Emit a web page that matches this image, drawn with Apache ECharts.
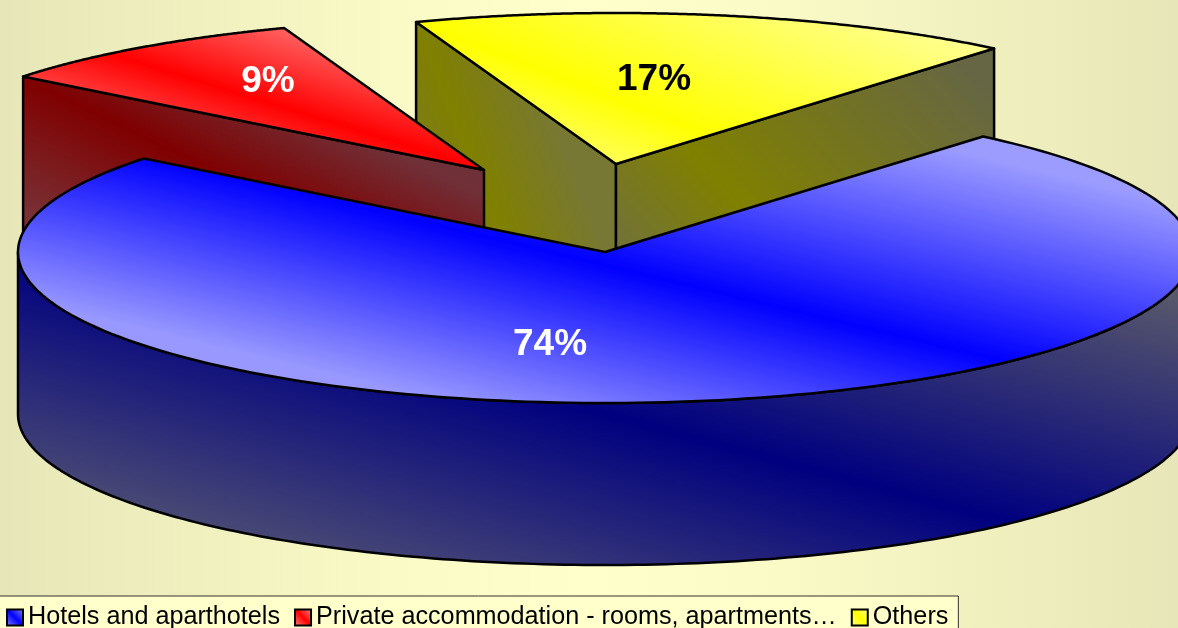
<!DOCTYPE html>
<html>
<head>
<meta charset="utf-8">
<style>
  html, body { margin: 0; padding: 0; overflow: hidden; }
  #main { width: 1178px; height: 628px; }
</style>
<script src="https://cdn.jsdelivr.net/npm/echarts@6/dist/echarts.min.js"></script>
</head>
<body>
<div id="main"></div>
<script>
// data, labels are rounded from these
var categories = ['Hotels and aparthotels', 'Private accommodation - rooms, apartments…', 'Others'];
var shares = [74.49, 8.84, 16.67];

// pie geometry
var CX = 605, CY = 252, RX = 587, RY = 151, START_ANGLE = 49.9;
var total = shares.reduce(function (a, b) { return a + b; }, 0);

// fill: a light/dark/light band across a face, given by a point on the band and its direction
function band(px, py, dx, dy, distA, distB, colA, colMid, colB) {
  var len = Math.sqrt(dx * dx + dy * dy);
  var nx = -dy / len, ny = dx / len;
  return new echarts.graphic.LinearGradient(
    px + nx * distA, py + ny * distA, px + nx * distB, py + ny * distB,
    [
      { offset: 0, color: colA },
      { offset: -distA / (distB - distA), color: colMid },
      { offset: 1, color: colB }
    ],
    true
  );
}

function swatch(light, mid) {
  return new echarts.graphic.LinearGradient(0, 1, 1, 0, [
    { offset: 0, color: light }, { offset: 0.5, color: mid }, { offset: 1, color: light }
  ]);
}

// the two back slices run deeper, the blue one hides their lower part
var looks = [
  {
    offset: [0, 0], depth: 162, z: 3, legend: swatch('#8888ff', '#0000ff'),
    label: { x: 550, y: 345, fill: '#fff' },
    top: band(149, 156, 851, 204, -195, 170, '#9c9cff', '#0000ff', '#9898ff'),
    wall: band(1000, 520, 422, 113, -260, 225, '#57576c', '#000080', '#4d4d74')
  },
  {
    offset: [-121, -82], depth: 200, z: 2, legend: swatch('#ff8888', '#ff0000'),
    label: { x: 268, y: 82, fill: '#fff' },
    top: band(115, 55, 355, 110, -100, 100, '#ff8080', '#ff0000', '#ff8080'),
    startFace: band(33, 83, 155, 75, -95, 120, '#703038', '#800000', '#783035')
  },
  {
    offset: [11, -88], depth: 200, z: 1, legend: swatch('#ffff88', '#ffff00'),
    label: { x: 654, y: 80, fill: '#000' },
    top: band(475, 45, 300, 115, -190, 90, '#ffff99', '#ffff00', '#ffff80'),
    startFace: band(500, 225, 100, 250, -90, 110, '#787835', '#808000', '#787835'),
    endFace: band(770, 237, 100, 110, -260, 110, '#666644', '#808000', '#737335')
  }
];

function renderSlice(i, api) {
  var look = looks[i];
  var tStart = api.value(0), tEnd = api.value(1);
  var ox = CX + look.offset[0], oy = CY + look.offset[1];
  var depth = look.depth;
  function pt(t, down) {
    var a = t * Math.PI / 180;
    return [ox + RX * Math.cos(a), oy - RY * Math.sin(a) + (down || 0)];
  }
  var line = { stroke: '#000', lineWidth: 2.5, lineJoin: 'round' };
  function face(points, fill) {
    return { type: 'polygon', shape: { points: points }, style: Object.assign({ fill: fill }, line) };
  }
  function cut(t, fill) {
    var p = pt(t);
    return face([[ox, oy], p, [p[0], p[1] + depth], [ox, oy + depth]], fill);
  }
  var children = [];
  // cut faces looking towards the viewer
  if (Math.cos(tStart * Math.PI / 180) < 0) children.push(cut(tStart, look.startFace));
  if (Math.cos(tEnd * Math.PI / 180) > 0) children.push(cut(tEnd, look.endFace));
  // outer wall, only the front half of the rim
  var upper = [], lower = [], k;
  for (k = -180; k <= 0; k++) {
    if (k <= tStart && k >= tEnd) {
      upper.push(pt(k));
      lower.unshift(pt(k, depth));
    }
  }
  if (upper.length) children.push(face(upper.concat(lower), look.wall));
  // top
  var topPts = [[ox, oy]];
  for (k = 0; k <= 200; k++) topPts.push(pt(tStart + (tEnd - tStart) * k / 200));
  children.push(face(topPts, look.top));
  // percent label
  children.push({
    type: 'text',
    style: {
      text: Math.round(shares[i] / total * 100) + '%',
      x: look.label.x, y: look.label.y,
      fill: look.label.fill,
      font: 'bold 37px "Liberation Sans", Arial, sans-serif',
      align: 'center', verticalAlign: 'middle'
    }
  });
  return { type: 'group', children: children };
}

var sum = 0;
var series = categories.map(function (name, i) {
  var from = START_ANGLE - sum / total * 360;
  sum += shares[i];
  var to = START_ANGLE - sum / total * 360;
  return {
    type: 'custom',
    name: name,
    coordinateSystem: 'none',
    z: looks[i].z,
    itemStyle: { color: looks[i].legend },
    data: [[from, to]],
    renderItem: function (params, api) { return renderSlice(i, api); }
  };
});

var myChart = echarts.init(document.getElementById('main'));
myChart.setOption({
  animation: false,
  backgroundColor: new echarts.graphic.LinearGradient(0, 0, 1, 0, [
    { offset: 0, color: '#e6e6b8' },
    { offset: 0.33, color: '#fafac6' },
    { offset: 0.5, color: '#ffffcc' },
    { offset: 0.67, color: '#fafac6' },
    { offset: 1, color: '#e6e6b8' }
  ]),
  legend: {
    data: categories,
    left: -1,
    top: 596,
    padding: [9, 10, 5, 7],
    itemGap: 14,
    itemWidth: 16,
    itemHeight: 16,
    icon: 'rect',
    selectedMode: false,
    backgroundColor: '#ffffcc',
    borderColor: '#333',
    borderWidth: 1,
    itemStyle: { borderColor: '#000', borderWidth: 2 },
    textStyle: { color: '#000', fontSize: 25.2, fontFamily: '"Liberation Sans", Arial, sans-serif' }
  },
  series: series
});
</script>
</body>
</html>
